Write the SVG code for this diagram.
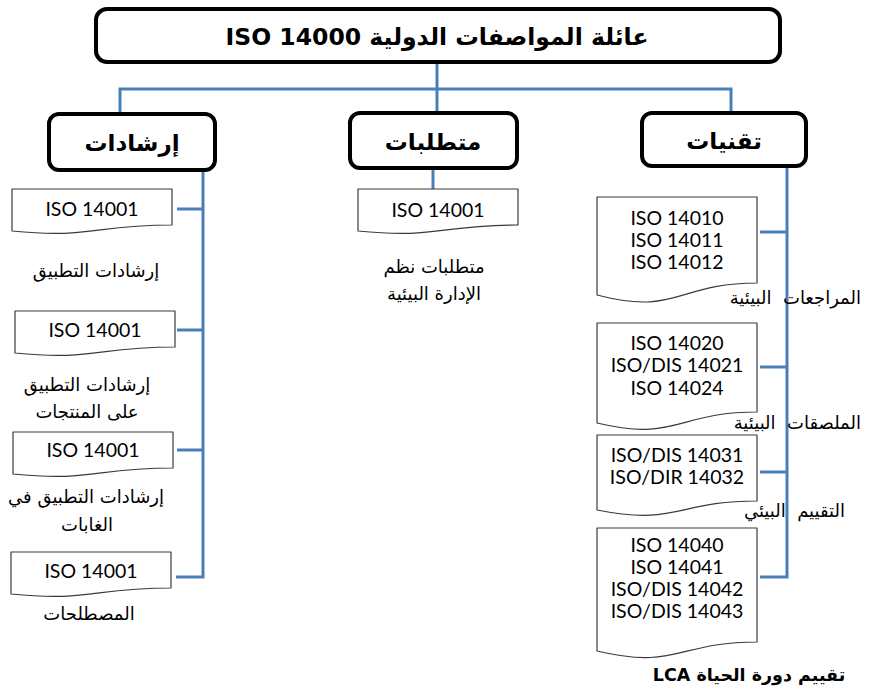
<svg xmlns="http://www.w3.org/2000/svg" width="869" height="689" viewBox="0 0 869 689">
  <style>
    .box { fill: #ffffff; stroke: #000000; stroke-width: 4; }
    .doc { fill: #ffffff; stroke: #3a3a3a; stroke-width: 1.2; stroke-linejoin: round; }
    .link { fill: none; stroke: #4a7ebb; stroke-width: 3; }
    .title { font-family: "DejaVu Sans", "Noto Sans", sans-serif; font-weight: bold; font-size: 23.5px; fill: #000; }
    .head { font-family: "DejaVu Sans", "Noto Sans", sans-serif; font-weight: bold; font-size: 23px; fill: #000; }
    .iso { font-family: Lato, "Open Sans", sans-serif; font-size: 19.5px; fill: #000; }
    .lbl { font-family: "DejaVu Sans", "Noto Sans", sans-serif; font-size: 18px; fill: #000; }
    .side { white-space: pre; }
    .lblb { font-family: "DejaVu Sans", "Noto Sans", sans-serif; font-size: 17.5px; font-weight: bold; fill: #000; }
  </style>

  <!-- connectors -->
  <g id="connectors">
    <path class="link" d="M437,62 V89 M120,89 H731 M120,87.5 V114 M437,89 V114 M731,87.5 V113"/>
    <path class="link" d="M203,170 V577 H176 M177,209 H203 M177,330 H203 M177,450 H203"/>
    <path class="link" d="M433,168 V189"/>
    <path class="link" d="M787,166 V577 H760 M760,232 H787 M760,367 H787 M760,472 H787"/>
  </g>

  <!-- root -->
  <g id="root">
    <rect class="box" x="96" y="9" width="684" height="53" rx="11"/>
    <text class="title" x="437" y="45" text-anchor="middle" direction="rtl">عائلة المواصفات الدولية ISO 14000</text>
  </g>

  <!-- second level -->
  <g id="guides">
    <rect class="box" x="49" y="114" width="166" height="56" rx="10"/>
    <text class="head" x="132" y="151" text-anchor="middle" direction="rtl">إرشادات</text>
  </g>
  <g id="requirements">
    <rect class="box" x="350" y="113" width="167" height="55" rx="10"/>
    <text class="head" x="433" y="150" text-anchor="middle" direction="rtl">متطلبات</text>
  </g>
  <g id="techniques">
    <rect class="box" x="642" y="113" width="164" height="53" rx="10"/>
    <text class="head" x="724" y="149" text-anchor="middle" direction="rtl">تقنيات</text>
  </g>

  <!-- guidance documents -->
  <g id="g-doc1">
    <path class="doc" d="M12,189 H172 V225 C92,225 92,239 12,231 Z"/>
    <text class="iso" x="92" y="216" text-anchor="middle">ISO 14001</text>
    <text class="lbl" x="96" y="277" text-anchor="middle" direction="rtl">إرشادات التطبيق</text>
  </g>
  <g id="g-doc2">
    <path class="doc" d="M15,311 H175 V347 C95,347 95,361 15,353 Z"/>
    <text class="iso" x="95" y="337" text-anchor="middle">ISO 14001</text>
    <text class="lbl" x="87" y="391" text-anchor="middle" direction="rtl">إرشادات التطبيق</text>
    <text class="lbl" x="87" y="418" text-anchor="middle" direction="rtl">على المنتجات</text>
  </g>
  <g id="g-doc3">
    <path class="doc" d="M13,432 H173 V468 C93,468 93,482 13,474 Z"/>
    <text class="iso" x="93" y="457" text-anchor="middle">ISO 14001</text>
    <text class="lbl" x="86" y="503" text-anchor="middle" direction="rtl">إرشادات التطبيق في</text>
    <text class="lbl" x="87" y="531" text-anchor="middle" direction="rtl">الغابات</text>
  </g>
  <g id="g-doc4">
    <path class="doc" d="M11,552 H171 V588 C91,588 91,602 11,594 Z"/>
    <text class="iso" x="91" y="578" text-anchor="middle">ISO 14001</text>
    <text class="lbl" x="89" y="620" text-anchor="middle" direction="rtl">المصطلحات</text>
  </g>

  <!-- requirements document -->
  <g id="r-doc1">
    <path class="doc" d="M358,189 H518 V225 C438,225 438,239 358,231 Z"/>
    <text class="iso" x="438" y="217" text-anchor="middle">ISO 14001</text>
    <text class="lbl" x="434" y="273" text-anchor="middle" direction="rtl">متطلبات نظم</text>
    <text class="lbl" x="434" y="300" text-anchor="middle" direction="rtl">الإدارة البيئية</text>
  </g>

  <!-- technique documents -->
  <g id="t-doc1">
    <path class="doc" d="M597,197 H757 V283 C677,283 677,316 597,295 Z"/>
    <text class="iso" x="677" y="225" text-anchor="middle">ISO 14010</text>
    <text class="iso" x="677" y="247" text-anchor="middle">ISO 14011</text>
    <text class="iso" x="677" y="269" text-anchor="middle">ISO 14012</text>
    <text class="lbl side" x="861" y="304" text-anchor="start" direction="rtl">المراجعات  البيئية</text>
  </g>
  <g id="t-doc2">
    <path class="doc" d="M597,323 H757 V412 C677,412 677,442 597,423 Z"/>
    <text class="iso" x="677" y="350" text-anchor="middle">ISO 14020</text>
    <text class="iso" x="677" y="372" text-anchor="middle">ISO/DIS 14021</text>
    <text class="iso" x="677" y="395" text-anchor="middle">ISO 14024</text>
    <text class="lbl side" x="861" y="429" text-anchor="start" direction="rtl">الملصقات  البيئية</text>
  </g>
  <g id="t-doc3">
    <path class="doc" d="M597,435 H757 V501 C677,501 677,526 597,510 Z"/>
    <text class="iso" x="677" y="462" text-anchor="middle">ISO/DIS 14031</text>
    <text class="iso" x="677" y="484" text-anchor="middle">ISO/DIR 14032</text>
    <text class="lbl side" x="845" y="517" text-anchor="start" direction="rtl">التقييم  البيئي</text>
  </g>
  <g id="t-doc4">
    <path class="doc" d="M597,528 H757 V642 C677,642 677,670 597,651 Z"/>
    <text class="iso" x="677" y="552" text-anchor="middle">ISO 14040</text>
    <text class="iso" x="677" y="574" text-anchor="middle">ISO 14041</text>
    <text class="iso" x="677" y="596" text-anchor="middle">ISO/DIS 14042</text>
    <text class="iso" x="677" y="618" text-anchor="middle">ISO/DIS 14043</text>
    <text class="lblb" x="749" y="681" text-anchor="middle" direction="rtl">تقييم دورة الحياة LCA</text>
  </g>
</svg>
